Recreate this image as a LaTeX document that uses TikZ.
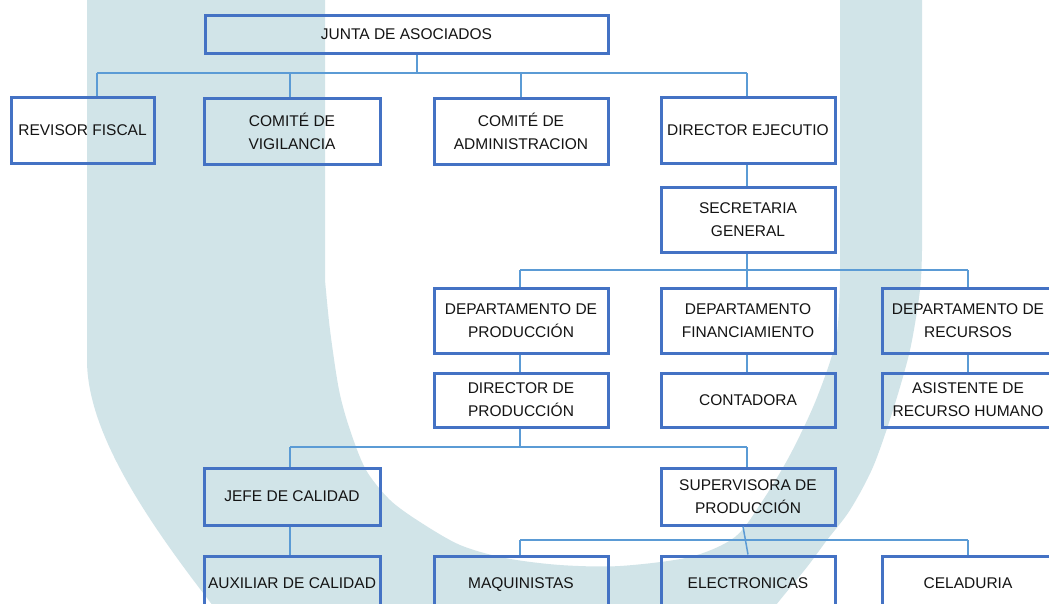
\documentclass[tikz,border=0pt]{standalone}
\usepackage{fontspec}
\setmainfont{Liberation Sans}
\definecolor{boxblue}{HTML}{4472C4}
\definecolor{linkblue}{HTML}{5B9BD5}
\definecolor{wm}{RGB}{209,228,232}
\begin{document}
\begin{tikzpicture}[x=1pt,y=-1pt,
  box/.style={draw=boxblue, line width=3pt, align=center, inner sep=0pt,
    text=black!92, font=\fontsize{15.5}{23}\selectfont},
  one/.style={text height=12pt, text depth=2pt},
  wide/.style={minimum width=174pt},
  link/.style={draw=linkblue, line width=1.5pt}]
\useasboundingbox (0,0) rectangle (1049,603);
\fill[white] (0,0) rectangle (1049,603);
% watermark U
\fill[wm] (87,-5) -- (87,360) .. controls (87,440) and (160,540) .. (240,640)
  -- (740,650)
  -- plot[smooth] coordinates {(740,650) (780,600) (807,567) (827,540) (850,510) (873,467) (893,410) (910,350) (920,290) (922,250)}
  -- (922,-5) -- (840,-5) -- (840,280)
  -- plot[smooth] coordinates {(840,280) (836,340) (816,400) (790,455) (763,500) (735,537) (690,557) (620,566) (560,565) (505,558) (460,545) (420,522) (390,500) (366,470) (350,430) (339,390) (330,330) (325,280)}
  -- (325,-5) -- cycle;
% nodes
\node[box, one, minimum width=403pt, minimum height=38pt] (junta) at (406.5,34) {JUNTA DE ASOCIADOS};
\node[box, one, minimum width=143pt, minimum height=66pt] (revisor) at (82.5,130) {REVISOR FISCAL};
\node[box, minimum width=176pt, minimum height=66pt] (vigil) at (292,131) {COMITÉ DE\\VIGILANCIA};
\node[box, wide, minimum height=66pt] (admin) at (521,131) {COMITÉ DE\\ADMINISTRACION};
\node[box, one, wide, minimum height=66pt] (director) at (748,130) {DIRECTOR EJECUTIO};
\node[box, wide, minimum height=65pt] (secre) at (748,220) {SECRETARIA\\GENERAL};
\node[box, wide, minimum height=65pt] (dprod) at (521,321) {DEPARTAMENTO DE\\PRODUCCIÓN};
\node[box, wide, minimum height=65pt] (dfin) at (748,321) {DEPARTAMENTO\\FINANCIAMIENTO};
\node[box, minimum width=172pt, minimum height=65pt] (drec) at (968,321) {DEPARTAMENTO DE\\RECURSOS};
\node[box, wide, minimum height=54pt] (dirprod) at (521,400) {DIRECTOR DE\\PRODUCCIÓN};
\node[box, one, wide, minimum height=54pt] (conta) at (748,400) {CONTADORA};
\node[box, minimum width=172pt, minimum height=54pt] (asist) at (968,400) {ASISTENTE DE\\RECURSO HUMANO};
\node[box, one, minimum width=176pt, minimum height=57pt] (jefe) at (292,496.5) {JEFE DE CALIDAD};
\node[box, wide, minimum height=57pt] (superv) at (748,496.5) {SUPERVISORA DE\\PRODUCCIÓN};
\node[box, one, minimum width=176pt, minimum height=54pt] (aux) at (292,583) {AUXILIAR DE CALIDAD};
\node[box, one, wide, minimum height=54pt] (maq) at (521,583) {MAQUINISTAS};
\node[box, one, wide, minimum height=54pt] (elec) at (748,583) {ELECTRONICAS};
\node[box, one, minimum width=172pt, minimum height=54pt] (cela) at (968,583) {CELADURIA};
% bus coordinates
\coordinate (b1) at (417,73);
\coordinate (b1w) at (97,73);
\coordinate (b1v) at (290,73);
\coordinate (b1a) at (521,73);
\coordinate (b1e) at (747,73);
\coordinate (b2) at (747,270);
\coordinate (b2w) at (520,270);
\coordinate (b2e) at (968,270);
\coordinate (b3) at (520,447);
\coordinate (b3w) at (290,447);
\coordinate (b3e) at (747,447);
\coordinate (b4w) at (520,540);
\coordinate (b4e) at (968,540);
% connectors
\draw[link] (junta.south -| b1) -- (b1);
\draw[link] (b1w) -- (b1e);
\draw[link] (b1w) -- (b1w |- revisor.north);
\draw[link] (b1v) -- (b1v |- vigil.north);
\draw[link] (b1a) -- (b1a |- admin.north);
\draw[link] (b1e) -- (b1e |- director.north);
\draw[link] (director.south -| b1e) -- (secre.north -| b1e);
\draw[link] (secre.south -| b2) -- (b2);
\draw[link] (b2w) -- (b2e);
\draw[link] (b2w) -- (b2w |- dprod.north);
\draw[link] (b2) -- (b2 |- dfin.north);
\draw[link] (b2e) -- (b2e |- drec.north);
\draw[link] (dprod.south -| b2w) -- (dirprod.north -| b2w);
\draw[link] (dfin.south -| b2) -- (conta.north -| b2);
\draw[link] (drec.south -| b2e) -- (asist.north -| b2e);
\draw[link] (dirprod.south -| b3) -- (b3);
\draw[link] (b3w) -- (b3e);
\draw[link] (b3w) -- (b3w |- jefe.north);
\draw[link] (b3e) -- (b3e |- superv.north);
\draw[link] (jefe.south -| b3w) -- (aux.north -| b3w);
\draw[link] (b4w) -- (b4e);
\draw[link] (b4w) -- (b4w |- maq.north);
\draw[link] (b4e) -- (b4e |- cela.north);
\draw[link] ([xshift=-5pt]superv.south) -- (elec.north);
\end{tikzpicture}
\end{document}
